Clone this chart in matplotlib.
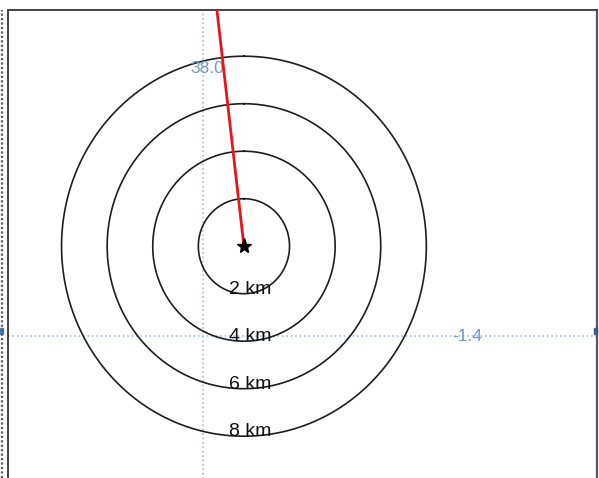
import numpy as np
import matplotlib
matplotlib.use("Agg")
import matplotlib.pyplot as plt
from matplotlib.lines import Line2D
from matplotlib.patches import Rectangle

plt.rcParams['font.family'] = ['Liberation Sans', 'DejaVu Sans']

# epicentre and distance rings
epi_lon = -1.3795
epi_lat = 38.034
radii_km = [2, 4, 6, 8]
ring_labels = ['2 km', '4 km', '6 km', '8 km']

# red trace leaving the epicentre
trace_azimuth = 353.2   # degrees from north
trace_length = 14.0     # km

# graticule lines
grid_lon = -1.4
grid_lat = 38.0

km_lat = 111.2
km_lon = 111.2 * np.cos(np.radians(epi_lat))

fig = plt.figure(figsize=(5.99, 4.78), dpi=100)
W, H = 599, 478
ax = fig.add_axes([8 / W, -3 / H, (597 - 8) / W, (H - 10 + 3) / H])
ax.set_xlim(-1.49765, -1.2027)
ax.set_ylim(38.0 - (481 - 336) / 2641, 38.12344)

t = np.linspace(0, 2 * np.pi, 400)
for r, lab in zip(radii_km, ring_labels):
    ax.plot(epi_lon + r / km_lon * np.sin(t), epi_lat + r / km_lat * np.cos(t),
            color='#1e1e1e', lw=1.2)
    ax.text(epi_lon + 0.003, epi_lat - r / km_lat, lab, ha='center',
            va='baseline', fontsize=14, color='#111111')

a = np.radians(trace_azimuth)
ax.plot([epi_lon, epi_lon + trace_length * np.sin(a) / km_lon],
        [epi_lat, epi_lat + trace_length * np.cos(a) / km_lat],
        color='#e8141c', lw=2, zorder=4)
ax.plot(epi_lon, epi_lat, marker='*', color='black', markersize=11, zorder=5)

grid_col = '#a3bfdc'
ax.axvline(grid_lon, color=grid_col, ls=':', lw=1.2, zorder=0)
ax.axhline(grid_lat, color=grid_col, ls=':', lw=1.2, zorder=0)
lab_col = '#7199c6'
ax.text(grid_lon + 0.002, grid_lat + (336 - 68) / 2641, '%.1f' % grid_lat,
        ha='center', va='center', fontsize=12.5, color=lab_col)
ax.text(grid_lon + (467 - 203) / 1997, grid_lat, '%.1f' % grid_lon,
        ha='center', va='center', fontsize=12.5, color=lab_col)

ax.set_xticks([])
ax.set_yticks([])
for side in ['left', 'top']:
    ax.spines[side].set_color('#444444')
    ax.spines[side].set_linewidth(1.4)
ax.spines['right'].set_color('#555566')
ax.spines['right'].set_linestyle((0, (1, 1)))
ax.spines['right'].set_linewidth(1.6)
ax.spines['bottom'].set_visible(False)

# outer frame line and edge markers
fig.add_artist(Line2D([2 / W, 2 / W], [0, 1 - 10 / H], color='#5a5a6a',
                      lw=1.6, ls=(0, (1, 1))))
fig.add_artist(Rectangle((0, 1 - 334 / H), 3 / W, 6 / H, color='#4a7ab0',
                         transform=fig.transFigure))
fig.add_artist(Rectangle((594 / W, 1 - 334 / H), 3 / W, 6 / H, color='#3a5a90',
                         transform=fig.transFigure))

fig.savefig('out.png', dpi=100)
